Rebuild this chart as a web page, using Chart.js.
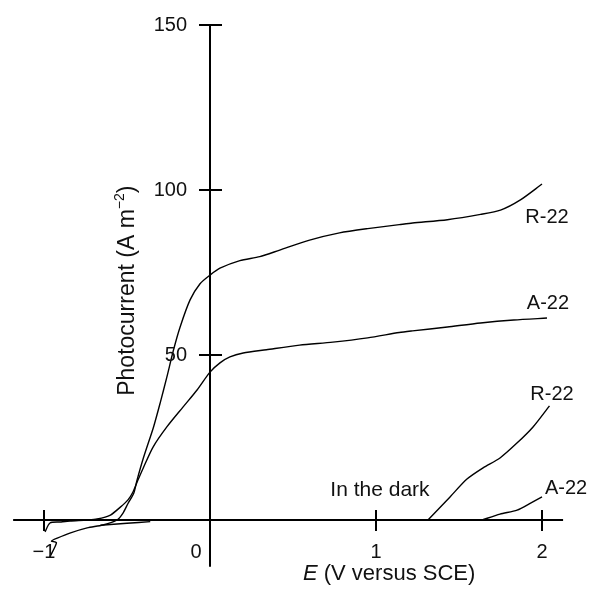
<!DOCTYPE html>
<html>
<head>
<meta charset="utf-8">
<script src="https://cdn.jsdelivr.net/npm/chart.js@4/dist/chart.umd.min.js"></script>
<style>
html,body{margin:0;padding:0;background:#fff;}
canvas{display:block;}
</style>
</head>
<body>
<canvas id="c" width="591" height="592"></canvas>
<script>
// ---- Data (E in V vs SCE, photocurrent in A m^-2) ----
const xTickValues = [-1, 0, 1, 2];
const xTickLabels = ['\u22121', '0', '1', '2'];
const yTickValues = [50, 100, 150];
const yTickLabels = ['50', '100', '150'];

// R-22 under illumination
const r22LightE = [-0.965, -0.925, -0.955, -0.92, -0.84, -0.74, -0.645, -0.56, -0.524, -0.494, -0.46, -0.44, -0.40, -0.34, -0.30, -0.26, -0.22, -0.18, -0.12, -0.06, 0, 0.06, 0.18, 0.30, 0.42, 0.60, 0.78, 0.95, 1.14, 1.22, 1.43, 1.63, 1.75, 1.87, 2.0];
const r22LightI = [-11.2, -6.9, -6.4, -5.5, -3.9, -2.4, -1.5, 0, 2.1, 5.0, 8.0, 12, 19, 28.2, 35.5, 43.3, 51.5, 58.5, 66.7, 71.6, 74.2, 76.3, 78.6, 79.8, 81.8, 84.8, 87.0, 88.3, 89.5, 90.0, 91.0, 92.6, 93.9, 97.0, 101.8];

// A-22 under illumination
const a22LightE = [-0.994, -0.964, -0.904, -0.843, -0.741, -0.68, -0.60, -0.54, -0.494, -0.464, -0.434, -0.40, -0.343, -0.26, -0.163, -0.078, 0, 0.06, 0.12, 0.20, 0.34, 0.54, 0.74, 0.95, 1.14, 1.22, 1.43, 1.63, 1.83, 2.03];
const a22LightI = [-3.6, -0.9, -0.6, -0.3, 0, 0.3, 1.5, 3.9, 6.1, 8.5, 12.1, 16, 22.1, 28.2, 34.2, 39.4, 44.8, 47.6, 49.4, 50.6, 51.6, 53.0, 53.9, 55.2, 56.8, 57.3, 58.5, 59.7, 60.6, 61.2];

// small dark-current trace at cathodic potentials
const darkLowE = [-0.66, -0.5, -0.36];
const darkLowI = [-1.6, -1.0, -0.5];

// R-22 in the dark
const r22DarkE = [1.313, 1.446, 1.548, 1.645, 1.747, 1.849, 1.946, 2.045];
const r22DarkI = [0, 7.0, 12.4, 15.8, 18.8, 23.3, 28.2, 34.6];

// A-22 in the dark
const a22DarkE = [1.64, 1.747, 1.85, 1.934, 2.0];
const a22DarkI = [0, 1.8, 3.0, 5.2, 7.0];

function pts(xs, ys){ return xs.map((v,i)=>({x:v, y:ys[i]})); }

const FONT = '"Liberation Sans", Arial, Helvetica, sans-serif';

const axesPlugin = {
  id: 'crossAxes',
  afterDraw(chart){
    const ctx = chart.ctx;
    const xs = chart.scales.x, ys = chart.scales.y;
    const X = v => xs.getPixelForValue(v);
    const Y = v => ys.getPixelForValue(v);
    const x0 = X(0), y0 = Y(0);
    ctx.save();
    ctx.strokeStyle = '#000';
    ctx.lineWidth = 2;
    ctx.lineCap = 'butt';
    const line = (a,b,c,d)=>{ ctx.beginPath(); ctx.moveTo(a,b); ctx.lineTo(c,d); ctx.stroke(); };
    // axes
    line(X(-1.186), y0, X(2.127), y0);
    line(x0, Y(150), x0, Y(-14.2));
    // ticks crossing the axes
    xTickValues.forEach(v=>{ if(v===0) return; const p = X(v); line(p, y0-10, p, y0+11); });
    yTickValues.forEach(v=>{ const p = Y(v); line(x0-11, p, x0+12, p); });

    ctx.fillStyle = '#111';
    // tick labels
    ctx.font = '20px ' + FONT;
    ctx.textBaseline = 'middle';
    ctx.textAlign = 'right';
    yTickValues.forEach((v,i)=>{ ctx.fillText(yTickLabels[i], x0-23, Y(v)); });
    ctx.textAlign = 'center';
    xTickValues.forEach((v,i)=>{
      const p = v===0 ? X(v)-14 : X(v);
      ctx.fillText(xTickLabels[i], p, y0+32);
    });

    // curve labels
    ctx.font = '20px ' + FONT;
    ctx.fillText('R-22', X(2.03), Y(91.8));
    ctx.fillText('A-22', X(2.036), Y(65.5));
    ctx.fillText('R-22', X(2.06), Y(37.9));
    ctx.fillText('A-22', X(2.145), Y(9.4));
    ctx.font = '21px ' + FONT;
    ctx.fillText('In the dark', X(1.024), Y(9.1));

    // x-axis title
    ctx.textAlign = 'left';
    ctx.textBaseline = 'alphabetic';
    let tx = X(0.56);
    const tb = y0 + 60;
    ctx.font = 'italic 22px ' + FONT;
    ctx.fillText('E', tx, tb);
    tx += ctx.measureText('E').width;
    ctx.font = '22px ' + FONT;
    ctx.fillText(' (V versus SCE)', tx, tb);

    // y-axis title (rotated)
    ctx.save();
    ctx.translate(126, Y(69.5));
    ctx.rotate(-Math.PI/2);
    const big = '23px ' + FONT, small = '14px ' + FONT;
    ctx.font = big; const w1 = ctx.measureText('Photocurrent (A m').width;
    ctx.font = small; const w2 = ctx.measureText('\u22122').width;
    ctx.font = big; const w3 = ctx.measureText(')').width;
    let sx = -(w1+w2+w3)/2;
    ctx.font = big; ctx.fillText('Photocurrent (A m', sx, 8); sx += w1;
    ctx.font = small; ctx.fillText('\u22122', sx, -2); sx += w2;
    ctx.font = big; ctx.fillText(')', sx, 8);
    ctx.restore();

    ctx.restore();
  }
};

const lineStyle = { showLine: true, pointRadius: 0, borderColor: '#000', borderWidth: 1.4, tension: 0.25, fill: false };

new Chart(document.getElementById('c'), {
  type: 'scatter',
  data: {
    datasets: [
      Object.assign({ label: 'R-22 light', data: pts(r22LightE, r22LightI) }, lineStyle),
      Object.assign({ label: 'A-22 light', data: pts(a22LightE, a22LightI) }, lineStyle),
      Object.assign({ label: 'dark low', data: pts(darkLowE, darkLowI) }, lineStyle),
      Object.assign({ label: 'R-22 dark', data: pts(r22DarkE, r22DarkI) }, lineStyle),
      Object.assign({ label: 'A-22 dark', data: pts(a22DarkE, a22DarkI) }, lineStyle)
    ]
  },
  options: {
    responsive: false,
    animation: false,
    layout: { padding: { left: 10.8, right: 24.1, top: 18.4, bottom: 22.5 } },
    plugins: { legend: { display: false }, tooltip: { enabled: false } },
    scales: {
      x: { type: 'linear', min: -1.2, max: 2.15, display: false },
      y: { type: 'linear', min: -15, max: 152, display: false }
    }
  },
  plugins: [axesPlugin]
});
</script>
</body>
</html>
